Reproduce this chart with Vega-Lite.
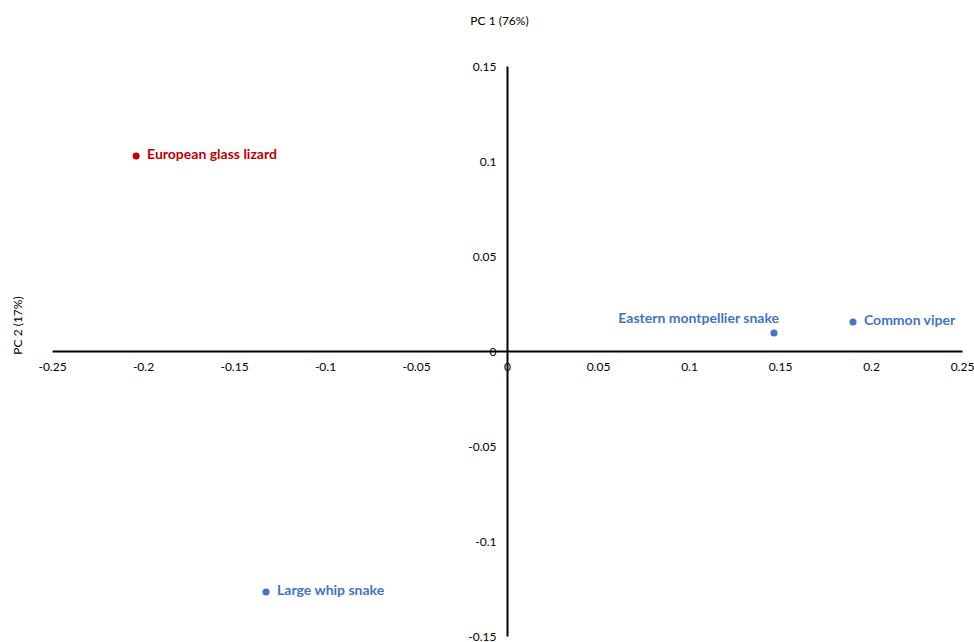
{
  "$schema": "https://vega.github.io/schema/vega-lite/v6.json",
  "width": 910,
  "height": 570,
  "autosize": {"type": "none"},
  "padding": {"left": 52, "top": 66, "right": 12, "bottom": 6},
  "background": "white",
  "config": {
    "view": {"stroke": null},
    "font": "Lato"
  },
  "data": {
    "values": [
      {"species": "European glass lizard", "pc1": -0.2038, "pc2": 0.1026, "group": "lizard"},
      {"species": "Eastern montpellier snake", "pc1": 0.1467, "pc2": 0.0095, "group": "snake"},
      {"species": "Common viper", "pc1": 0.1901, "pc2": 0.0153, "group": "snake"},
      {"species": "Large whip snake", "pc1": -0.1324, "pc2": -0.1268, "group": "snake"}
    ]
  },
  "encoding": {
    "x": {
      "field": "pc1",
      "type": "quantitative",
      "scale": {"domain": [-0.25, 0.25], "nice": false, "zero": false},
      "axis": {
        "title": "PC 1 (76%)",
        "offset": -285,
        "values": [-0.25, -0.2, -0.15, -0.1, -0.05, 0, 0.05, 0.1, 0.15, 0.2, 0.25],
        "labelExpr": "'' + datum.value",
        "labelFlush": false,
        "labelOverlap": false,
        "grid": false,
        "ticks": false,
        "domainColor": "black",
        "domainWidth": 2,
        "labelPadding": 10,
        "labelFontSize": 12,
        "labelColor": "#000000",
        "labelFont": "Lato",
        "titleFont": "Lato",
        "titleFontSize": 12,
        "titleFontWeight": "normal",
        "titleColor": "#000000",
        "titleX": 447,
        "titleY": -331,
        "titleBaseline": "middle",
        "titleAnchor": null,
        "zindex": 0
      }
    },
    "y": {
      "field": "pc2",
      "type": "quantitative",
      "scale": {"domain": [-0.15, 0.15], "nice": false, "zero": false},
      "axis": {
        "title": "PC 2 (17%)",
        "offset": -455,
        "values": [-0.15, -0.1, -0.05, 0, 0.05, 0.1, 0.15],
        "labelExpr": "'' + datum.value",
        "labelFlush": false,
        "labelOverlap": false,
        "grid": false,
        "ticks": false,
        "domainColor": "black",
        "domainWidth": 2,
        "labelPadding": 11,
        "labelFontSize": 12,
        "labelColor": "#000000",
        "labelFont": "Lato",
        "titleFont": "Lato",
        "titleFontSize": 12,
        "titleFontWeight": "normal",
        "titleColor": "#000000",
        "titleX": -490,
        "titleY": 259,
        "titleBaseline": "middle",
        "titleAngle": -90,
        "titleAnchor": null,
        "zindex": 0
      }
    },
    "color": {
      "field": "group",
      "type": "nominal",
      "scale": {"domain": ["lizard", "snake"], "range": ["#C00000", "#4472C4"]},
      "legend": null
    }
  },
  "layer": [
    {"mark": {"type": "circle", "size": 50, "opacity": 1}},
    {
      "transform": [{"filter": "datum.species === 'Eastern montpellier snake'"}],
      "mark": {"type": "text", "align": "right", "baseline": "middle", "dx": 5, "dy": -14, "fontWeight": "bold", "fontSize": 14},
      "encoding": {"text": {"field": "species"}}
    },
    {
      "transform": [{"filter": "datum.species !== 'Eastern montpellier snake'"}],
      "mark": {"type": "text", "align": "left", "baseline": "middle", "dx": 11, "dy": -1, "fontWeight": "bold", "fontSize": 14},
      "encoding": {"text": {"field": "species"}}
    }
  ]
}
